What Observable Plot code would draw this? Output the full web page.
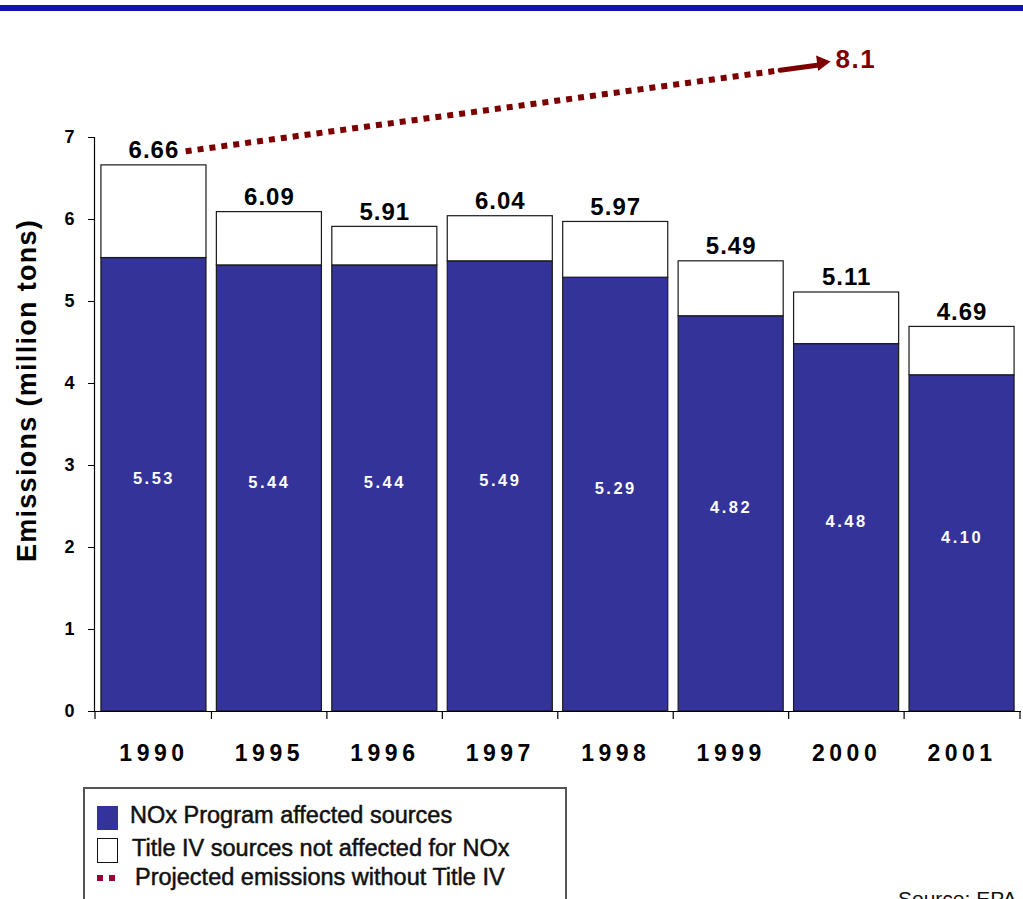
<!DOCTYPE html>
<html>
<head>
<meta charset="utf-8">
<script src="https://cdn.jsdelivr.net/npm/d3@7"></script>
<script src="https://cdn.jsdelivr.net/npm/@observablehq/plot@0.6"></script>
<style>
  html, body { margin: 0; padding: 0; background: #fff; }
  body { width: 1023px; height: 899px; overflow: hidden; position: relative; font-family: "Liberation Sans", Arial, sans-serif; }
  #stripe { position: absolute; left: 0; top: 5px; width: 1023px; height: 6px; background: #1212b0; }
  #chart { position: absolute; left: 0; top: 0; }
  #legend { position: absolute; left: 83px; top: 787px; width: 484px; height: 130px; border: 2px solid #555; background: #fff; box-sizing: border-box; }
  .item { position: absolute; left: 0; height: 30px; font-size: 23.5px; color: #111; white-space: nowrap; -webkit-text-stroke: 0.5px #111; }
  .sw { position: absolute; }
  .lbl { position: absolute; top: 0; line-height: 30px; }
  #source { position: absolute; left: 898px; top: 887px; font-size: 21px; color: #111; white-space: nowrap; }
  g[aria-label="x-axis tick label"] text { letter-spacing: 4.5px; }
  g[aria-label="y-axis tick label"], g[aria-label="y-axis tick label"] text { font-size: 18px; font-weight: bold; }
</style>
</head>
<body>
<div id="stripe"></div>
<div id="chart"></div>
<div id="legend"></div>
<div id="source">Source: EPA</div>
<script>
// ---- data ----
const years = ["1990", "1995", "1996", "1997", "1998", "1999", "2000", "2001"];
const totals = [6.66, 6.09, 5.91, 6.04, 5.97, 5.49, 5.11, 4.69];
const noxValues = [5.53, 5.44, 5.44, 5.49, 5.29, 4.82, 4.48, 4.10];
const yTicks = [0, 1, 2, 3, 4, 5, 6, 7];
const projYears = ["1990", "2000"];
const projValues = [6.78, 7.93];
const projLabel = "8.1";
const yLabel = "Emissions (million tons)";
const legendLabels = ["NOx Program affected sources", "Title IV sources not affected for NOx", "Projected emissions without Title IV"];

const rows = years.map((y, i) => ({year: y, total: totals[i], nox: noxValues[i]}));
const proj = [{x1: projYears[0], y1: projValues[0], x2: projYears[1], y2: projValues[1]}];

const blue = "#333399";
const red = "#7d0000";
const half = 927 / 8 / 2; // half a band step, in px

const chart = Plot.plot({
  width: 1023,
  height: 780,
  marginTop: 137,
  marginBottom: 69,
  marginLeft: 94,
  marginRight: 2,
  style: {fontFamily: "'Liberation Sans', Arial, sans-serif", background: "transparent", overflow: "visible"},
  x: {domain: years, paddingInner: 0.09, paddingOuter: 0.06, round: false, label: null},
  y: {domain: [0, 7], label: null},
  marks: [
    Plot.barY(rows, {x: "year", y1: 0, y2: "nox", fill: blue, stroke: "#1a1a1a", strokeWidth: 1.2}),
    Plot.barY(rows, {x: "year", y1: "nox", y2: "total", fill: "#fff", stroke: "#1a1a1a", strokeWidth: 1.2}),
    Plot.text(rows, {x: "year", y: "total", text: d => d.total.toFixed(2), dy: -15, fontSize: 24, fontWeight: "bold", fill: "#000"}),
    Plot.text(rows, {x: "year", y: d => d.nox / 2, text: d => d.nox.toFixed(2), dy: -6, fontSize: 16.5, fontWeight: "bold", fill: "#fff"}),
    // projected line: dotted part
    Plot.arrow(proj, {x1: "x1", y1: "y1", x2: "x2", y2: "y2", stroke: red, strokeWidth: 6, strokeDasharray: "6,6", strokeLinecap: "butt", headLength: 0, insetStart: 32, insetEnd: 70}),
    // solid tail
    Plot.arrow(proj, {x1: "x1", y1: "y1", x2: "x2", y2: "y2", stroke: red, strokeWidth: 5, headLength: 0, insetStart: 632, insetEnd: 28}),
    // arrow head
    Plot.dot(proj, {x: "x2", y: "y2", symbol: "triangle2", r: 7.5, rotate: 82.5, fill: red, stroke: "none", dx: -25, dy: 1.5}),
    Plot.text([projLabel], {x: () => projYears[1], y: () => projValues[1], text: d => d, dx: -11, dy: -2, textAnchor: "start", fontSize: 26, fontWeight: "bold", fill: red}),
    // axes
    Plot.ruleY([0], {stroke: "#000", strokeWidth: 1.2}),
    Plot.frame({anchor: "left", stroke: "#000", strokeWidth: 1.2}),
    Plot.axisY({ticks: yTicks, tickFormat: d => d, tickSize: 6, tickPadding: 14, fontSize: 18, fontWeight: "bold", label: null}),
    Plot.axisX({tickSize: 0, tickPadding: 33, fontSize: 23, fontWeight: "bold", label: null}),
    Plot.ruleX(years.slice(0, 1), {x: d => d, dx: -half - 1, y1: 0, y2: 0, insetBottom: -8, stroke: "#000", strokeWidth: 1.2}),
    Plot.ruleX(years.slice(1), {x: d => d, dx: -half, y1: 0, y2: 0, insetBottom: -8, stroke: "#000", strokeWidth: 1.2}),
    Plot.ruleX(years.slice(-1), {x: d => d, dx: half, y1: 0, y2: 0, insetBottom: -8, stroke: "#000", strokeWidth: 1.2}),
    Plot.text([yLabel], {frameAnchor: "left", textAnchor: "middle", rotate: -90, dx: -67, dy: -34, fontSize: 27, fontWeight: "bold", fill: "#000", text: d => d})
  ]
});
document.getElementById("chart").appendChild(chart);

// letter spacing tweaks on text mark groups
chart.querySelectorAll('g[aria-label="text"]').forEach(g => {
  const fill = g.getAttribute("fill");
  const fs = g.getAttribute("font-size");
  if (fill === "#fff") g.style.letterSpacing = "2.5px";
  else if (fill === red) g.style.letterSpacing = "1.5px";
  else if (fs === "27") g.style.letterSpacing = "1.3px";
  else if (fs === "24") g.style.letterSpacing = "1px";
});

// legend
const legend = document.getElementById("legend");
const rowTops = [11, 44, 73];
legendLabels.forEach((lab, i) => {
  const it = document.createElement("div");
  it.className = "item";
  it.style.top = rowTops[i] + "px";
  let sw = "";
  if (i === 0) sw = `<div class="sw" style="left:12px;top:6px;width:21px;height:24px;background:${blue}"></div>`;
  if (i === 1) sw = `<div class="sw" style="left:12px;top:5px;width:19px;height:23px;background:#fff;border:1.5px solid #111"></div>`;
  if (i === 2) sw = `<div class="sw" style="left:12px;top:13px;width:6px;height:6px;background:#990033"></div><div class="sw" style="left:24px;top:13px;width:6px;height:6px;background:#990033"></div>`;
  const left = [45, 47, 50][i];
  it.innerHTML = sw + `<span class="lbl" style="left:${left}px">${lab}</span>`;
  legend.appendChild(it);
});
</script>
</body>
</html>
